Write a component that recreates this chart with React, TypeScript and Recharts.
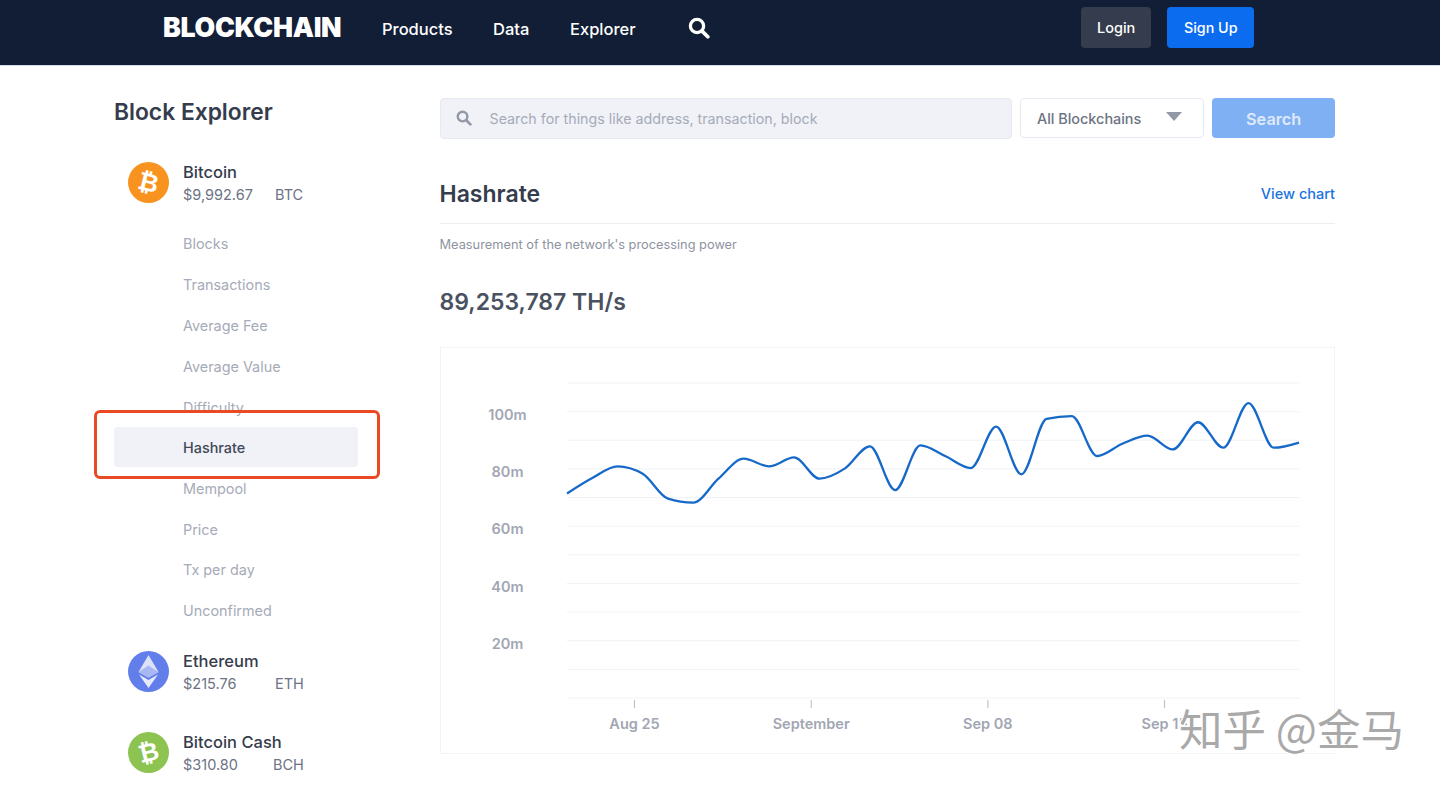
import React from "react";
import { LineChart, Line, XAxis, YAxis, CartesianGrid } from "recharts";

// Day position counted from Aug 1 (Aug 25 = 25, Sep 1 = 32, Sep 8 = 39, Sep 15 = 46)
const days = [22.35, 23.35, 24.35, 25.35, 26.35, 27.35, 28.35, 29.35, 30.35, 31.35, 32.35, 33.35, 34.35, 35.35, 36.35, 37.35, 38.35, 39.35, 40.35, 41.35, 42.35, 43.35, 44.35, 45.35, 46.35, 47.35, 48.35, 49.35, 50.35, 51.35];
const hashrate = [71.4, 76.8, 80.9, 78.3, 69.6, 68.2, 76.6, 83.6, 80.9, 84.0, 76.6, 80.1, 87.9, 72.6, 88.2, 84.4, 80.3, 94.8, 78.1, 97.5, 98.4, 84.5, 88.8, 91.6, 86.8, 96.3, 87.4, 103.0, 87.4, 89.2];
const xTicks = [25, 32, 39, 46];
const xLabels = ["Aug 25", "September", "Sep 08", "Sep 15"];
const yTicks = [0, 10, 20, 30, 40, 50, 60, 70, 80, 90, 100, 110];
const yLabels: Record<number, string> = { 20: "20m", 40: "40m", 60: "60m", 80: "80m", 100: "100m" };
const rows = days.map((day, i) => ({ day, value: hashrate[i] }));

const menu = ["Blocks", "Transactions", "Average Fee", "Average Value", "Difficulty", "Hashrate", "Mempool", "Price", "Tx per day", "Unconfirmed"];
const menuTops = [244, 285, 326, 366.5, 407.5, 448, 489, 529.5, 570, 611];
const nav = [["Products", 382], ["Data", 493], ["Explorer", 570]] as const;

const FONT = "Inter, 'Noto Sans', sans-serif";

function T({ x, y, size, color, weight = 400, children, right, spacing }: any) {
  const base: React.CSSProperties = {
    position: "absolute", top: y, transform: "translateY(-50%)", fontSize: size, color, fontWeight: weight,
    whiteSpace: "nowrap", lineHeight: 1, letterSpacing: spacing,
  };
  if (right !== undefined) base.right = right; else base.left = x;
  return <div style={base}>{children}</div>;
}

function Box({ x, y, w, h, style }: any) {
  return <div style={{ position: "absolute", left: x, top: y, width: w, height: h, boxSizing: "border-box", ...style }} />;
}

function Lens({ x, y, color, size }: any) {
  return (
    <svg style={{ position: "absolute", left: x, top: y }} width={size} height={size} viewBox="0 0 20 20">
      <circle cx="8.2" cy="8.2" r="6" fill="none" stroke={color} strokeWidth="3" />
      <line x1="12.8" y1="12.8" x2="18" y2="18" stroke={color} strokeWidth="3.4" strokeLinecap="round" />
    </svg>
  );
}

function Coin({ y, fill, children }: any) {
  return (
    <svg style={{ position: "absolute", left: 128, top: y }} width={41} height={41} viewBox="0 0 41 41">
      <circle cx="20.5" cy="20.5" r="20.5" fill={fill} />
      {children}
    </svg>
  );
}

function BitcoinGlyph({ angle }: { angle: number }) {
  return (
    <text x="20.5" y="29" textAnchor="middle" fontSize="25" fontWeight="700" fill="#fff"
      fontFamily="'DejaVu Sans', sans-serif" transform={`rotate(${angle} 20.5 20.5)`}>₿</text>
  );
}

function YTick({ y, payload }: any) {
  const label = yLabels[payload.value];
  if (!label) return null;
  return (
    <text x={67.5} y={y + 3} dy="0.35em" textAnchor="middle" fontSize={14.5} fontWeight={600} fill="#a2a6b3" fontFamily={FONT}>
      {label}
    </text>
  );
}

function XTick({ x, payload }: any) {
  const label = xLabels[xTicks.indexOf(payload.value)];
  const px = x + 0.6;
  return (
    <g>
      <line x1={px} x2={px} y1={353} y2={361} stroke="#b9bcc6" strokeWidth={1} />
      <text x={px} y={377} dy="0.35em" textAnchor="middle" fontSize={14.5} fontWeight={600} fill="#a2a6b3" fontFamily={FONT}>
        {label}
      </text>
    </g>
  );
}

export default function App() {
  return (
    <div style={{ position: "absolute", left: 0, top: 0, width: 1440, height: 787, overflow: "hidden", background: "#fff", fontFamily: FONT }}>
      <Box x={0} y={0} w={1440} h={66} style={{ background: "#121e35", borderBottom: "1px solid #d5deea" }} />
      <T x={163} y={27} size={26.7} color="#fff" weight={900} spacing={-0.3}>BLOCKCHAIN</T>
      {nav.map(([label, x]) => <T key={label} x={x} y={29} size={16.5} color="#fff" weight={500}>{label}</T>)}
      <Lens x={688} y={17} size={22} color="#fff" />
      <Box x={1081} y={7} w={70} h={41} style={{ background: "#343c4d", borderRadius: 4 }} />
      <T x={1097} y={27.5} size={14.5} color="#fff" weight={500}>Login</T>
      <Box x={1167} y={7} w={87} h={41} style={{ background: "#0b6cf0", borderRadius: 4 }} />
      <T x={1184} y={27.5} size={14.3} color="#fff" weight={500}>Sign Up</T>

      <T x={114} y={112} size={22.8} color="#353c4c" weight={600}>Block Explorer</T>

      <Coin y={162} fill="#f7931e"><BitcoinGlyph angle={14} /></Coin>
      <T x={183} y={172} size={16.5} color="#353c4c" weight={500}>Bitcoin</T>
      <T x={183} y={194.5} size={14.5} color="#6c7384">$9,992.67</T>
      <T x={275} y={194.5} size={14.5} color="#6c7384">BTC</T>

      <Box x={114} y={427} w={244} h={40} style={{ background: "#f0f2f7", borderRadius: 4 }} />
      {menu.map((m, i) => (
        <T key={m} x={183} y={menuTops[i]} size={14.4} color={m === "Hashrate" ? "#414858" : "#a6abb8"} weight={m === "Hashrate" ? 500 : 400}>{m}</T>
      ))}
      <Box x={94} y={410} w={286} h={68.5} style={{ border: "3px solid #ea4a23", borderRadius: 6 }} />

      <Coin y={651} fill="#627eea">
        <polygon points="20.5,4 30.5,21 20.5,26.5 10.5,21" fill="#dbe2fa" />
        <polygon points="20.5,14.5 30.5,21 20.5,26.5 10.5,21" fill="#a9b8f2" />
        <polygon points="20.5,29 30,23.5 20.5,37 11,23.5" fill="#e6ebfc" />
      </Coin>
      <T x={183} y={661} size={16.5} color="#353c4c" weight={500}>Ethereum</T>
      <T x={183} y={683.5} size={14.5} color="#6c7384">$215.76</T>
      <T x={275} y={683.5} size={14.5} color="#6c7384">ETH</T>

      <Coin y={732} fill="#8dc351"><BitcoinGlyph angle={-14} /></Coin>
      <T x={183} y={742} size={16.5} color="#353c4c" weight={500}>Bitcoin Cash</T>
      <T x={183} y={764.5} size={14.5} color="#6c7384">$310.80</T>
      <T x={273} y={764.5} size={14.5} color="#6c7384">BCH</T>

      <Box x={439.5} y={98} w={572.5} h={41} style={{ background: "#f0f2f7", border: "1px solid #e6e9f0", borderRadius: 4 }} />
      <Lens x={456} y={110} size={16} color="#9398a6" />
      <T x={489.5} y={119} size={14.25} color="#a6abb8">Search for things like address, transaction, block</T>
      <Box x={1020} y={98} w={184} h={40} style={{ background: "#fff", border: "1px solid #e6e9f0", borderRadius: 4 }} />
      <T x={1037} y={119} size={14.4} color="#6c7384" weight={500}>All Blockchains</T>
      <svg style={{ position: "absolute", left: 1166, top: 112 }} width={17} height={10}>
        <polygon points="0,0 16,0 8,9" fill="#9398a6" />
      </svg>
      <Box x={1212} y={98} w={123} h={40} style={{ background: "#7fb0f4", borderRadius: 4 }} />
      <T x={1246} y={118.5} size={16.3} color="#dfeafb" weight={600}>Search</T>

      <T x={439.5} y={193.5} size={23} color="#353c4c" weight={600}>Hashrate</T>
      <T right={105} y={193.5} size={14.5} color="#1a73e0" weight={500}>View chart</T>
      <Box x={440} y={223} w={895} h={1} style={{ background: "#eceef2" }} />
      <T x={439.5} y={245} size={12.8} color="#8e93a1">Measurement of the network's processing power</T>
      <T x={439.5} y={301.5} size={23} color="#4a5161" weight={600}>89,253,787 TH/s</T>

      <Box x={440} y={347} w={895} h={407} style={{ border: "1px solid #f2f3f6" }} />
      <div style={{ position: "absolute", left: 440, top: 347 }}>
        <LineChart width={895} height={407} data={rows} margin={{ top: 36, right: 36, bottom: 0, left: 0 }}>
          <CartesianGrid horizontal vertical={false} stroke="#f1f2f5" strokeWidth={1} />
          <XAxis dataKey="day" type="number" domain={[22.35, 51.35]} ticks={xTicks} axisLine={false} tickLine={false} tick={<XTick />} height={56} interval={0} />
          <YAxis type="number" domain={[0, 110]} ticks={yTicks} axisLine={false} tickLine={false} tick={<YTick />} width={127} interval={0} />
          <Line dataKey="value" type="monotone" stroke="#1769c9" strokeWidth={2.3} dot={false} isAnimationActive={false} />
        </LineChart>
      </div>

      <div style={{
        position: "absolute", left: 1179, top: 728, transform: "translateY(-50%)", fontFamily: "'Noto Sans CJK SC', sans-serif",
        fontSize: 43.5, lineHeight: 1, color: "#a9a9a9", whiteSpace: "pre", WebkitTextStroke: "3px #fff", paintOrder: "stroke fill",
      } as React.CSSProperties}>知乎 @金马</div>
    </div>
  );
}
